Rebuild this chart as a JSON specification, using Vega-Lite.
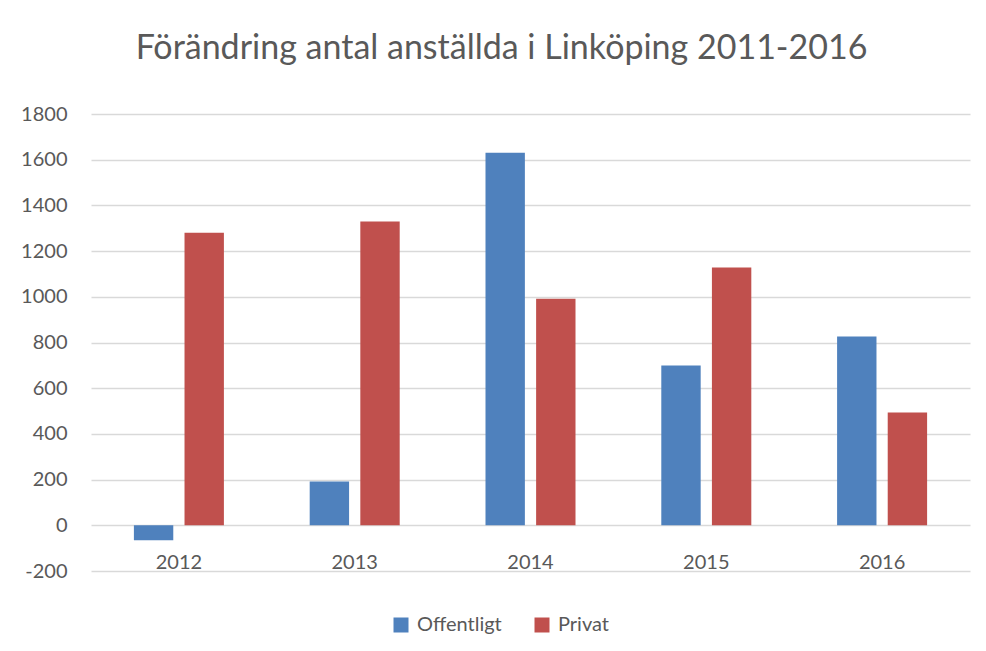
{
  "$schema": "https://vega.github.io/schema/vega-lite/v6.json",
  "width": 879,
  "height": 457,
  "autosize": "none",
  "padding": {"left": 91, "top": 114, "right": 16, "bottom": 80},
  "background": "white",
  "title": {
    "text": "Förändring antal anställda i Linköping 2011-2016",
    "font": "Lato",
    "fontSize": 34,
    "fontWeight": "normal",
    "color": "#595959",
    "anchor": "middle",
    "dx": -29,
    "offset": 38
  },
  "config": {
    "view": {"stroke": null},
    "font": "Lato"
  },
  "data": {
    "values": [
      {"year": "2012", "series": "Offentligt", "value": -65},
      {"year": "2012", "series": "Privat", "value": 1280},
      {"year": "2013", "series": "Offentligt", "value": 192},
      {"year": "2013", "series": "Privat", "value": 1329},
      {"year": "2014", "series": "Offentligt", "value": 1630},
      {"year": "2014", "series": "Privat", "value": 992},
      {"year": "2015", "series": "Offentligt", "value": 699},
      {"year": "2015", "series": "Privat", "value": 1128},
      {"year": "2016", "series": "Offentligt", "value": 826},
      {"year": "2016", "series": "Privat", "value": 494}
    ]
  },
  "mark": {"type": "bar"},
  "encoding": {
    "x": {
      "field": "year",
      "type": "nominal",
      "scale": {"paddingInner": 0.488, "paddingOuter": 0.244},
      "axis": {
        "title": null,
        "labelAngle": 0,
        "labelFontSize": 20,
        "labelColor": "#595959",
        "labelFont": "Lato",
        "ticks": false,
        "domain": false,
        "offset": -46,
        "labelPadding": 27,
        "grid": false
      }
    },
    "xOffset": {
      "field": "series",
      "type": "nominal",
      "scale": {"paddingInner": 0.222, "paddingOuter": 0}
    },
    "y": {
      "field": "value",
      "type": "quantitative",
      "scale": {"domain": [-200, 1800], "nice": false, "zero": false},
      "axis": {
        "title": null,
        "values": [-200, 0, 200, 400, 600, 800, 1000, 1200, 1400, 1600, 1800],
        "labelExpr": "'' + datum.value",
        "labelFontSize": 20,
        "labelColor": "#595959",
        "labelFont": "Lato",
        "ticks": false,
        "domain": false,
        "labelPadding": 24,
        "gridColor": "#d9d9d9",
        "gridWidth": 1.5
      }
    },
    "color": {
      "field": "series",
      "type": "nominal",
      "scale": {"domain": ["Offentligt", "Privat"], "range": ["#4f81bd", "#c0504d"]},
      "legend": {
        "title": null,
        "orient": "none",
        "direction": "horizontal",
        "legendX": 300,
        "legendY": 501,
        "symbolType": "square",
        "symbolSize": 225,
        "symbolStrokeWidth": 0,
        "labelFontSize": 20,
        "labelColor": "#595959",
        "labelFont": "Lato",
        "columnPadding": 30,
        "labelOffset": 6
      }
    }
  }
}
